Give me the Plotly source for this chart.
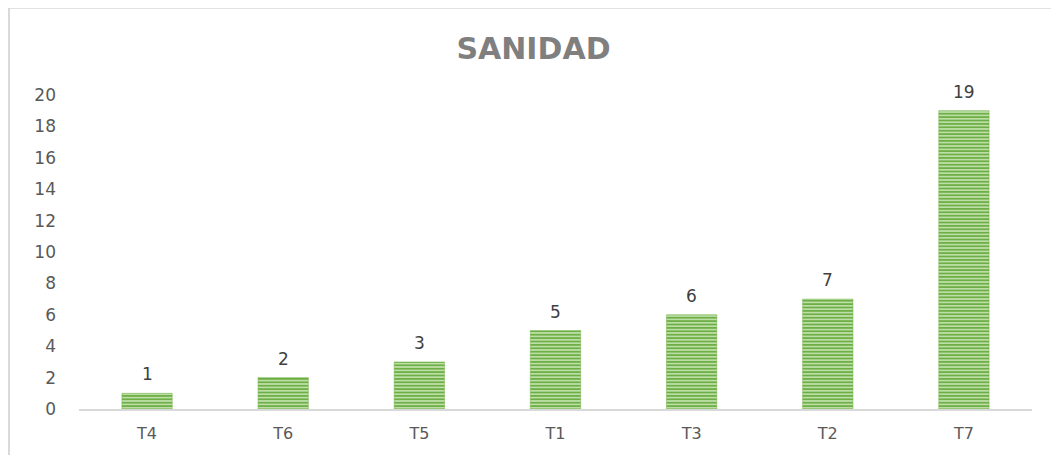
import plotly.graph_objects as go

categories = ['T4', 'T6', 'T5', 'T1', 'T3', 'T2', 'T7']
values = [1, 2, 3, 5, 6, 7, 19]
y_ticks = [0, 2, 4, 6, 8, 10, 12, 14, 16, 18, 20]

# the page body adds an 8px offset, so the figure is sized to the window minus that
W, H = 1051, 447
FONT = 'DejaVu Sans'

fig = go.Figure()
fig.add_trace(go.Bar(
    x=categories, y=values,
    width=0.37,
    marker=dict(
        color='#B9DCA2',
        line=dict(color='#72B24A', width=0.5),
        pattern=dict(shape='-', size=3.4, solidity=0.55,
                     fgcolor='#6DAE45', bgcolor='#C6E4B2', fillmode='replace'),
    ),
))

# data labels above bars
for c, v in zip(categories, values):
    fig.add_annotation(x=c, y=v, text=str(v), showarrow=False,
                       yanchor='bottom', yshift=7,
                       font=dict(family=FONT, size=17, color='#404040'))

# chart border
fig.add_shape(type='rect', xref='paper', yref='paper',
              x0=-0.0735, x1=1.05, y0=-0.2, y1=1.278,
              line=dict(color='#D9D9D9', width=2), layer='below')

fig.update_layout(
    width=W, height=H,
    margin=dict(l=71, r=27, t=87, b=36),
    paper_bgcolor='white', plot_bgcolor='white',
    showlegend=False,
    title=dict(text='<b>SANIDAD</b>', x=0.5, xanchor='center', y=0.91, yanchor='middle',
               font=dict(family=FONT, size=30, color='#7F7F7F')),
    font=dict(family=FONT, size=16, color='#595959'),
)
fig.update_yaxes(range=[0, 20], tickvals=y_ticks, showgrid=False, zeroline=False,
                 showline=False, ticks='', ticklabelstandoff=22,
                 tickfont=dict(size=17))
fig.update_xaxes(showline=True, linecolor='#D9D9D9', linewidth=2, ticks='',
                 ticklabelstandoff=9)

fig.write_html('out.html')
